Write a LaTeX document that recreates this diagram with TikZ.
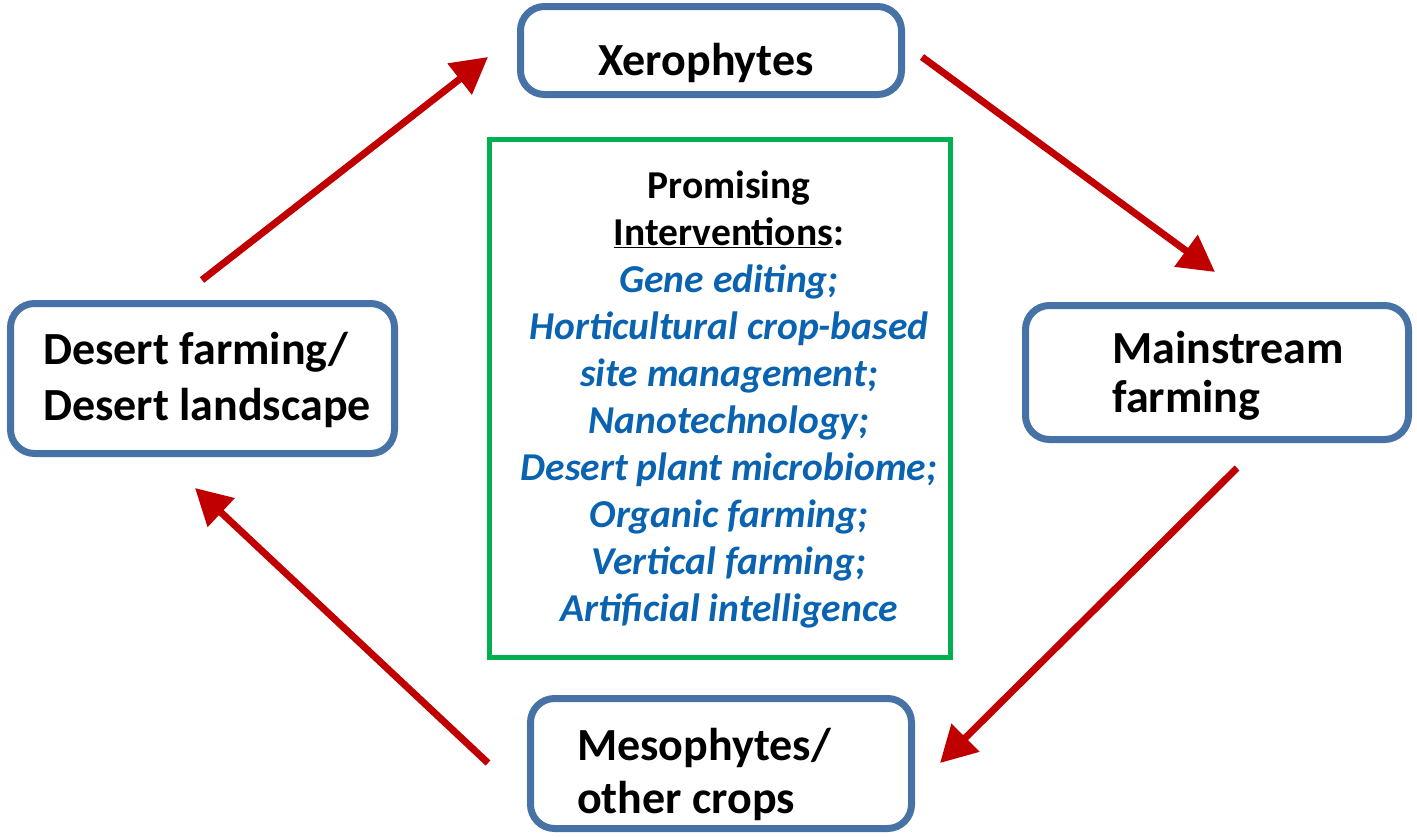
\documentclass[tikz,border=0pt]{standalone}
\usepackage{fontspec}
\setmainfont{Carlito}
\usetikzlibrary{arrows.meta}
\definecolor{boxblue}{HTML}{4672A6}
\definecolor{arrred}{HTML}{C00000}
\definecolor{grn}{HTML}{00B050}
\definecolor{txtblue}{HTML}{0A63B0}
\begin{document}
\begin{tikzpicture}[x=1pt,y=-1pt,
  box/.style={draw=boxblue, line width=7pt, rounded corners=24pt, fill=white, inner sep=0pt, outer sep=0pt},
  greenbox/.style={draw=grn, line width=5pt, fill=white, inner sep=0pt, outer sep=0pt},
  lbl/.style={anchor=base west, inner sep=0pt, font=\fontsize{46}{54}\selectfont\bfseries},
  head/.style={anchor=base, inner sep=0pt, font=\fontsize{39.5}{47}\selectfont\bfseries},
  cen/.style={anchor=base, inner sep=0pt, font=\fontsize{39.5}{47}\selectfont\bfseries\itshape, text=txtblue},
  arr/.style={draw=arrred, line width=7pt, -{Triangle[length=36pt,width=38pt]}}]
\useasboundingbox (0,0) rectangle (1417,838);
% boxes
\node[box, minimum width=381pt, minimum height=88pt] (xero) at (711,50.5) {};
\node[box, minimum width=384pt, minimum height=150pt] (desert) at (202.5,378.5) {};
\node[box, minimum width=383pt, minimum height=134pt] (main) at (1217,372.5) {};
\node[box, minimum width=381pt, minimum height=130pt] (meso) at (721,763.5) {};
\node[greenbox, minimum width=461pt, minimum height=518pt] (green) at (720,398.5) {};
% box texts
\node[lbl] (t1) at (598,75) {Xerophytes};
\node[lbl] (t2) at (43,364) {Desert farming/};
\node[lbl] (t3) at (43,420) {Desert landscape};
\node[lbl] (t4) at (1112,363) {Mainstream};
\node[lbl] (t5) at (1112,412) {farming};
\node[lbl] (t6) at (577,760) {Mesophytes/};
\node[lbl] (t7) at (577,813) {other crops};
% central text
\node[head] (c1) at (729,198) {Promising};
\node[head] (c2) at (729,245.1) {\underline{Interventions}:};
\node[cen] (c3) at (729,292.2) {Gene editing;};
\node[cen] (c4) at (729,339.3) {Horticultural crop-based};
\node[cen] (c5) at (729,386.4) {site management;};
\node[cen] (c6) at (729,433.5) {Nanotechnology;};
\node[cen] (c7) at (729,480.6) {Desert plant microbiome;};
\node[cen] (c8) at (729,527.7) {Organic farming;};
\node[cen] (c9) at (729,574.8) {Vertical farming;};
\node[cen] (c10) at (729,621.9) {Artificial intelligence};
% arrows
\coordinate (a1s) at (202,280); \coordinate (a1e) at (488,57);
\coordinate (a2s) at (922,57);  \coordinate (a2e) at (1215,272);
\coordinate (a3s) at (1237,468); \coordinate (a3e) at (940,763);
\coordinate (a4s) at (488,763); \coordinate (a4e) at (195,488);
\draw[arr] (a1s) -- (a1e);
\draw[arr] (a2s) -- (a2e);
\draw[arr] (a3s) -- (a3e);
\draw[arr] (a4s) -- (a4e);
\end{tikzpicture}
\end{document}
